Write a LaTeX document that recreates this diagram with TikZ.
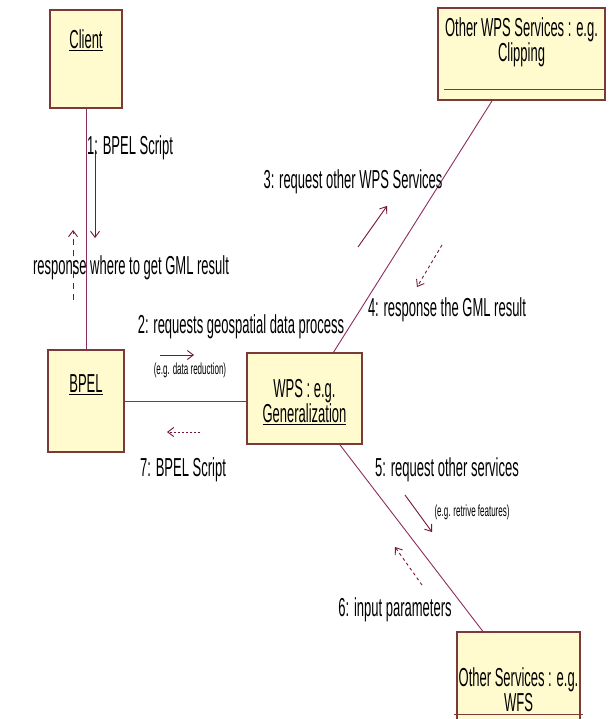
\documentclass[tikz,border=0pt]{standalone}
\usepackage{fontspec}
\setmainfont{Liberation Sans}[FakeStretch=0.5]
\usetikzlibrary{arrows.meta,calc}
\definecolor{objfill}{RGB}{255,251,206}
\definecolor{objdraw}{RGB}{122,58,58}
\definecolor{linkc}{RGB}{140,45,95}
\definecolor{msgc}{RGB}{120,20,60}

\begin{document}
\begin{tikzpicture}[
    x = 1pt, y = -1pt,
    obj/.style = {
      draw = objdraw, fill = objfill, line width = 1.2pt, inner sep = 0pt
    },
    objtxt/.style = {
      font = \fontsize{26}{25}\selectfont, align = center, inner sep = 0pt
    },
    link/.style = { draw = linkc, line width = 0.9pt },
    msg/.style = {
      draw = msgc, line width = 0.9pt,
      -{Straight Barb[length = 6pt, width = 9pt]}
    },
    reply/.style = { msg, dash pattern = on 3pt off 3pt },
    lbl/.style = { font = \fontsize{26}{25}\selectfont, inner sep = 0pt },
    note/.style = { font = \fontsize{16}{15}\selectfont, inner sep = 0pt }
  ]
  \useasboundingbox[fill = white] (0,0) rectangle (609,719);

  \node[obj, minimum width = 72pt, minimum height = 98pt] (client) at (86,59) {};
  \node[obj, minimum width = 167pt, minimum height = 92pt] (clip) at (521.5,54) {};
  \node[obj, minimum width = 76pt, minimum height = 102pt] (bpel) at (86,401) {};
  \node[obj, minimum width = 115pt, minimum height = 91pt] (wps) at (304.5,398.5) {};
  \node[obj, minimum width = 123pt, minimum height = 92pt] (wfs) at (518.5,678) {};

  \node[objtxt] (clienttxt) at (86,40) {\underline{Client}};
  \node[objtxt] (cliptxt) at (521.5,42) {Other WPS Services : e.g.\\Clipping};
  \node[objtxt] (bpeltxt) at (86,385) {\underline{BPEL}};
  \node[objtxt] (wpstxt) at (304.5,402) {WPS : e.g.\\\underline{Generalization}};
  \node[objtxt] (wfstxt) at (518.5,690) {Other Services : e.g.\\WFS};
  \draw[objdraw, line width = 1.6pt]
    ($(clip.south west)+(7,-11)$) -- ($(clip.south east)+(-2,-11)$);
  \draw[objdraw, line width = 1.6pt]
    ($(wfs.south west)+(-2,-10)$) -- ($(wfs.south east)+(2,-10)$);

  \draw[link] (client) -- (bpel);
  \draw[link] (bpel.east) -- (bpel.east -| wps.west);
  \draw[link] (wps) -- (clip);
  \draw[link] (wps) -- (wfs);

  \coordinate (m1a) at (95,150);  \coordinate (m1b) at (95,238);
  \coordinate (r1a) at (73,300);  \coordinate (r1b) at (73,230);
  \coordinate (m2a) at (160,355); \coordinate (m2b) at (194,355);
  \coordinate (m3a) at (358,247); \coordinate (m3b) at (387,206);
  \coordinate (m4a) at (442,245); \coordinate (m4b) at (417,287);
  \coordinate (m5a) at (405,495); \coordinate (m5b) at (432,532);
  \coordinate (m6a) at (422,585); \coordinate (m6b) at (395,547);
  \coordinate (m7a) at (200,432); \coordinate (m7b) at (167,432);

  \draw[msg] (m1a) -- (m1b);
  \draw[reply, dash pattern = on 6pt off 5pt] (r1a) -- (r1b);
  \draw[msg] (m2a) -- (m2b);
  \draw[msg] (m3a) -- (m3b);
  \draw[reply] (m4a) -- (m4b);
  \draw[msg] (m5a) -- (m5b);
  \draw[reply] (m6a) -- (m6b);
  \draw[reply, dash pattern = on 2pt off 2pt] (m7a) -- (m7b);

  \node[lbl] (l1) at (130,148) {1: BPEL Script};
  \node[lbl] (lr) at (131,268) {response where to get GML result};
  \node[lbl] (l2) at (241,327) {2: requests geospatial data process};
  \node[note] (n2) at (190,370) {(e.g. data reduction)};
  \node[lbl] (l3) at (353,182) {3: request other WPS Services};
  \node[lbl] (l4) at (447,310) {4: response the GML result};
  \node[lbl] (l5) at (447,470) {5: request other services};
  \node[note] (n5) at (472,512) {(e.g. retrive features)};
  \node[lbl] (l6) at (395,610) {6: input parameters};
  \node[lbl] (l7) at (183,470) {7: BPEL Script};
\end{tikzpicture}
\end{document}
